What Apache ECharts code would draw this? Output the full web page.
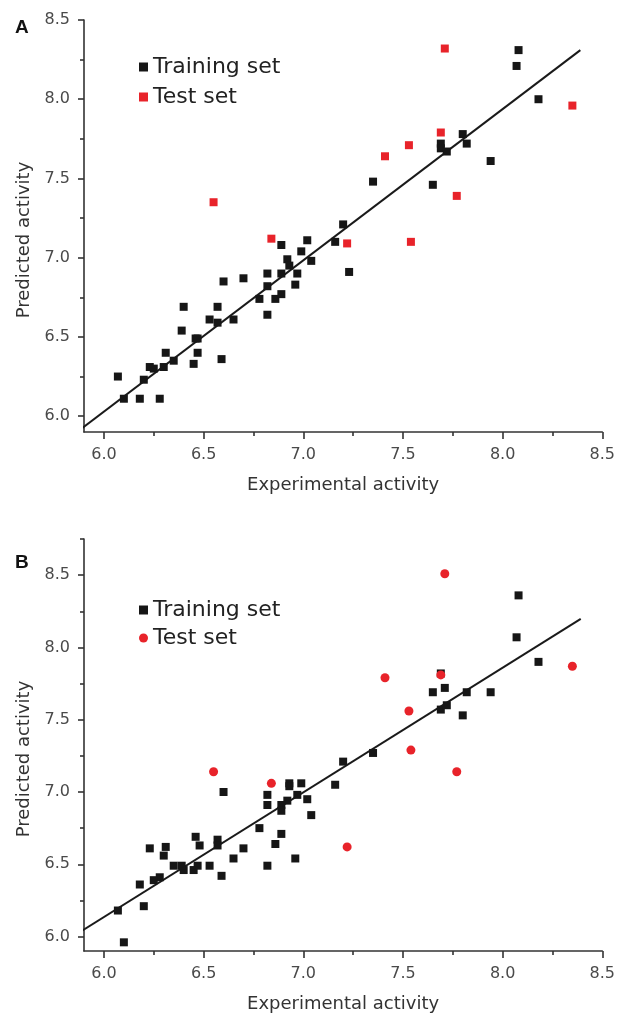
<!DOCTYPE html>
<html>
<head>
<meta charset="utf-8">
<script src="https://cdn.jsdelivr.net/npm/echarts@6/dist/echarts.min.js"></script>
<style>
html,body{margin:0;padding:0;background:#fff;}
#chart{width:618px;height:1014px;}
</style>
</head>
<body>
<div id="chart"></div>
<script>
// ---- data ----
var trainA = [
  [8.08,8.31],[8.07,8.21],[8.18,8.00],[7.80,7.78],[7.82,7.72],[7.69,7.72],[7.69,7.69],[7.72,7.67],
  [7.94,7.61],[7.65,7.46],[7.35,7.48],[7.20,7.21],[7.16,7.10],[7.02,7.11],[6.99,7.04],[6.89,7.08],
  [6.07,6.25],[6.10,6.11],[6.18,6.11],[6.28,6.11],[6.20,6.23],[6.23,6.31],[6.25,6.30],[6.30,6.31],
  [6.31,6.40],[6.35,6.35],[6.39,6.54],[6.40,6.69],[6.45,6.33],[6.46,6.49],[6.47,6.49],[6.47,6.40],
  [6.53,6.61],[6.57,6.69],[6.57,6.59],[6.59,6.36],[6.60,6.85],[6.65,6.61],[6.70,6.87],[6.78,6.74],
  [6.82,6.90],[6.82,6.82],[6.82,6.64],[6.86,6.74],[6.89,6.77],[6.89,6.90],[6.92,6.99],[6.93,6.95],
  [6.97,6.90],[6.96,6.83],[7.04,6.98],[7.23,6.91]
];
var testA = [
  [7.71,8.32],[8.35,7.96],[7.69,7.79],[7.53,7.71],[7.41,7.64],[7.77,7.39],[6.55,7.35],[6.84,7.12],
  [7.22,7.09],[7.54,7.10]
];
var fitA = [[5.865,5.90],[8.39,8.31]];

var trainB = [
  [8.08,8.36],[8.07,8.07],[8.18,7.90],[7.69,7.82],[7.65,7.69],[7.71,7.72],[7.82,7.69],[7.94,7.69],
  [7.69,7.57],[7.72,7.60],[7.80,7.53],[7.35,7.27],[7.20,7.21],[7.16,7.05],[6.93,7.06],[6.93,7.04],
  [6.99,7.06],[6.97,6.98],[7.02,6.95],[7.04,6.84],[6.92,6.94],[6.89,6.91],[6.89,6.87],[6.89,6.71],
  [6.86,6.64],[6.96,6.54],[6.82,6.98],[6.82,6.91],[6.82,6.49],[6.78,6.75],[6.70,6.61],[6.65,6.54],
  [6.60,7.00],[6.57,6.67],[6.57,6.63],[6.59,6.42],[6.53,6.49],[6.46,6.69],[6.48,6.63],[6.47,6.49],
  [6.45,6.46],[6.40,6.46],[6.39,6.49],[6.35,6.49],[6.31,6.62],[6.30,6.56],[6.28,6.41],[6.25,6.39],
  [6.23,6.61],[6.18,6.36],[6.20,6.21],[6.07,6.18],[6.10,5.96]
];
var testB = [
  [7.71,8.51],[8.35,7.87],[7.41,7.79],[7.69,7.81],[7.53,7.56],[7.54,7.29],[7.77,7.14],[6.55,7.14],
  [6.84,7.06],[7.22,6.62]
];
var fitB = [[5.873,6.025],[8.392,8.197]];

var xTicks = [6.0,6.5,7.0,7.5,8.0,8.5];
var xMinor = [6.25,6.75,7.25,7.75,8.25];
var yTicksA = [6.0,6.5,7.0,7.5,8.0,8.5];
var yMinorA = [6.25,6.75,7.25,7.75,8.25];
var yTicksB = [6.0,6.5,7.0,7.5,8.0,8.5];
var yMinorB = [6.25,6.75,7.25,7.75,8.25,8.75];

var seriesNames = ['Training set','Test set'];
var panelLabels = ['A','B'];
var xTitle = 'Experimental activity';
var yTitle = 'Predicted activity';

// ---- styling ----
var FONT = 'DejaVu Sans';
var AXIS_COLOR = '#333';
var LABEL_COLOR = '#4a4a4a';
var BLACK = '#161616';
var RED = '#e8232a';

function mainX(grid, min, max){
  return {
    type:'value', gridIndex:grid, min:min, max:max, position:'bottom',
    splitLine:{show:false},
    axisLine:{show:true, onZero:false, lineStyle:{color:AXIS_COLOR, width:1.6}},
    axisTick:{show:true, customValues:xTicks, length:7, lineStyle:{color:AXIS_COLOR, width:1.6}},
    axisLabel:{customValues:xTicks, margin:15, fontSize:16, fontFamily:FONT, color:LABEL_COLOR,
      formatter:function(v){return v.toFixed(1);}},
    name:xTitle, nameLocation:'middle', nameGap:44,
    nameTextStyle:{fontSize:18, fontFamily:FONT, color:'#333'}
  };
}
function minorX(grid, min, max){
  return {
    type:'value', gridIndex:grid, min:min, max:max, position:'bottom',
    splitLine:{show:false},
    axisLine:{show:false, onZero:false},
    axisTick:{show:true, customValues:xMinor, length:4, lineStyle:{color:AXIS_COLOR, width:1.6}},
    axisLabel:{show:false}
  };
}
function mainY(grid, min, max, ticks){
  return {
    type:'value', gridIndex:grid, min:min, max:max, position:'left',
    splitLine:{show:false},
    axisLine:{show:true, onZero:false, lineStyle:{color:AXIS_COLOR, width:1.6}},
    axisTick:{show:true, customValues:ticks, length:6, lineStyle:{color:AXIS_COLOR, width:1.6}},
    axisLabel:{customValues:ticks, margin:14, fontSize:16, fontFamily:FONT, color:LABEL_COLOR,
      formatter:function(v){return v.toFixed(1);}},
    name:yTitle, nameLocation:'middle', nameGap:50,
    nameTextStyle:{fontSize:18, fontFamily:FONT, color:'#333', padding:[0,28,0,0]}
  };
}
function minorY(grid, min, max, ticks){
  return {
    type:'value', gridIndex:grid, min:min, max:max, position:'left',
    splitLine:{show:false},
    axisLine:{show:false, onZero:false},
    axisTick:{show:true, customValues:ticks, length:4, lineStyle:{color:AXIS_COLOR, width:1.6}},
    axisLabel:{show:false}
  };
}

var option = {
  backgroundColor:'#fff',
  animation:false,
  title:[
    {text:panelLabels[0], left:10, top:13, textStyle:{fontSize:19, fontWeight:'bold', fontFamily:'Liberation Sans', color:'#111'}},
    {text:panelLabels[1], left:10, top:548, textStyle:{fontSize:19, fontWeight:'bold', fontFamily:'Liberation Sans', color:'#111'}}
  ],
  legend:[
    {orient:'vertical', left:134, top:51, itemGap:8, itemWidth:9, itemHeight:9,
     data:[{name:seriesNames[0], icon:'rect'},{name:seriesNames[1], icon:'rect'}],
     textStyle:{fontSize:22, fontFamily:FONT, color:'#222'}, selectedMode:false},
    {orient:'vertical', left:134, top:594, itemGap:6, itemWidth:9, itemHeight:9,
     data:[{name:seriesNames[0], icon:'rect'},{name:seriesNames[1], icon:'circle'}],
     textStyle:{fontSize:22, fontFamily:FONT, color:'#222'}, selectedMode:false}
  ],
  grid:[
    {left:84, right:13, top:20, height:412},
    {left:84, right:13, top:539, height:413}
  ],
  xAxis:[ mainX(0,5.9,8.5), mainX(1,5.9,8.5), minorX(0,5.9,8.5), minorX(1,5.9,8.5) ],
  yAxis:[ mainY(0,5.9,8.5,yTicksA), mainY(1,5.9,8.75,yTicksB), minorY(0,5.9,8.5,yMinorA), minorY(1,5.9,8.75,yMinorB) ],
  series:[
    {type:'line', xAxisIndex:0, yAxisIndex:0, data:fitA, symbol:'none', clip:false,
     lineStyle:{color:'#1a1a1a', width:2}, z:1, silent:true},
    {name:seriesNames[0], type:'scatter', xAxisIndex:0, yAxisIndex:0, data:trainA,
     symbol:'rect', symbolSize:8, itemStyle:{color:BLACK, opacity:1}, z:2},
    {name:seriesNames[1], type:'scatter', xAxisIndex:0, yAxisIndex:0, data:testA,
     symbol:'rect', symbolSize:8, itemStyle:{color:RED, opacity:1}, z:3},
    {type:'line', xAxisIndex:1, yAxisIndex:1, data:fitB, symbol:'none', clip:false,
     lineStyle:{color:'#1a1a1a', width:2}, z:1, silent:true},
    {name:seriesNames[0], type:'scatter', xAxisIndex:1, yAxisIndex:1, data:trainB,
     symbol:'rect', symbolSize:8, itemStyle:{color:BLACK, opacity:1}, z:2},
    {name:seriesNames[1], type:'scatter', xAxisIndex:1, yAxisIndex:1, data:testB,
     symbol:'circle', symbolSize:9, itemStyle:{color:RED, opacity:1}, z:3}
  ]
};

var chart = echarts.init(document.getElementById('chart'), null, {renderer:'canvas'});
chart.setOption(option);
</script>
</body>
</html>
